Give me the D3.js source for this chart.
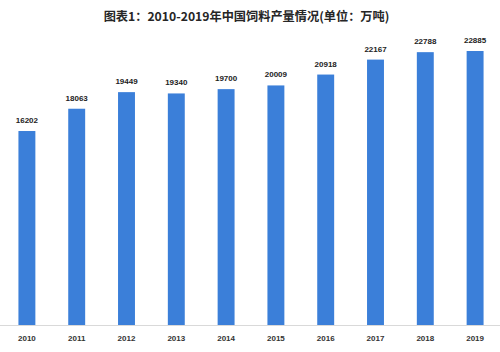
<!DOCTYPE html>
<html><head><meta charset="utf-8">
<script src="https://cdn.jsdelivr.net/npm/d3@7"></script>
<style>body{margin:0;background:#fff;}svg{display:block;}</style>
</head><body>
<svg id="c" width="500" height="352"></svg>
<script>
const years = ["2010","2011","2012","2013","2014","2015","2016","2017","2018","2019"];
const output = [16202,18063,19449,19340,19700,20009,20918,22167,22788,22885];
const title = "图表1：2010-2019年中国饲料产量情况(单位：万吨)";

const svg = d3.select("#c");
const x = d3.scaleBand().domain(years).range([2, 500]).paddingInner(0.66).paddingOuter(0.33);
const y = d3.scaleLinear().domain([0, 22885]).range([325, 51]);

svg.append("text").attr("x", 246.5).attr("y", 20.5).attr("text-anchor","middle")
  .attr("font-family","Noto Sans CJK SC").attr("font-weight","bold").attr("font-size",12.2)
  .attr("fill","#262626").text(title);

svg.selectAll("rect.bar").data(output).enter().append("rect").attr("class","bar")
  .attr("x",(d,i)=>x(years[i])).attr("width",x.bandwidth())
  .attr("y",d=>y(d)).attr("height",d=>y(0)-y(d)).attr("fill","#3b7fd9");

svg.selectAll("text.val").data(output).enter().append("text").attr("class","val")
  .attr("x",(d,i)=>x(years[i])+x.bandwidth()/2).attr("y",d=>y(d)-8)
  .attr("text-anchor","middle").attr("font-family","Liberation Sans").attr("font-weight","bold")
  .attr("font-size",8).attr("fill","#222").text(d=>d);

const ax = svg.append("g").attr("transform","translate(0,325.5)")
  .call(d3.axisBottom(x).tickSize(0).tickPadding(10));
ax.select(".domain").attr("stroke","#d9d9d9").attr("d","M0,0H500");
ax.selectAll("text").attr("font-family","Liberation Sans").attr("font-weight","bold")
  .attr("font-size",8).attr("fill","#333");
</script>
</body></html>
